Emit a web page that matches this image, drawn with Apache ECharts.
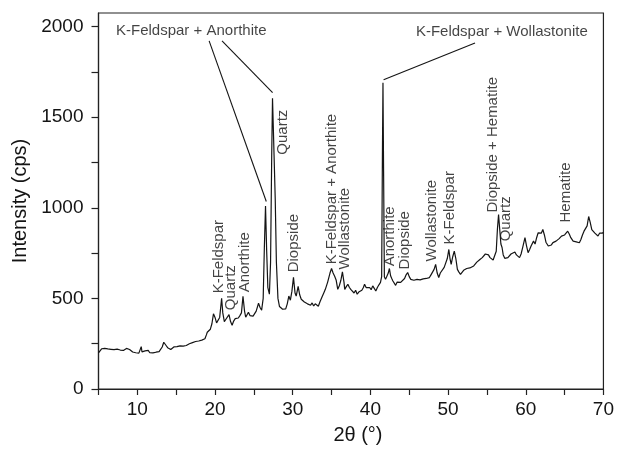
<!DOCTYPE html>
<html>
<head>
<meta charset="utf-8">
<script src="https://cdn.jsdelivr.net/npm/echarts@6/dist/echarts.min.js"></script>
<style>html,body{margin:0;padding:0;background:#fff}#c{width:617px;height:450px}</style>
</head>
<body>
<div id="c"></div>
<script>
// 2θ (degrees)
var twoTheta = [
5.0,5.2,5.4,5.6,5.8,6.0,6.2,6.4,6.6,6.8,7.0,7.2,7.4,7.6,7.8,8.0,8.2,8.4,8.6,8.8,9.0,9.2,9.4,9.6,9.8,10.0,10.2,10.4,10.5,10.6,10.8,11.0,11.2,11.4,11.6,11.8,12.0,12.2,12.4,12.6,12.8,13.0,13.2,13.4,13.5,13.7,13.9,14.1,14.3,14.5,14.7,14.9,15.1,15.3,15.5,15.7,15.9,16.1,16.3,16.5,16.7,16.9,17.1,17.3,17.5,17.7,17.9,18.1,18.3,18.5,18.7,18.9,19.0,19.2,19.4,19.6,19.8,20.0,20.2,20.4,20.6,20.85,21.0,21.2,21.4,21.6,21.8,22.0,22.2,22.4,22.6,22.8,23.0,23.2,23.4,23.6,23.8,23.95,24.1,24.3,24.5,24.7,24.9,25.1,25.3,25.6,25.8,26.0,26.2,26.35,26.5,26.65,26.8,27.0,27.15,27.3,27.4,27.5,27.6,27.75,27.9,28.1,28.3,28.5,28.7,28.9,29.1,29.3,29.5,29.7,29.9,30.1,30.3,30.45,30.7,30.9,31.1,31.3,31.5,31.7,31.9,32.1,32.3,32.5,32.7,32.9,33.1,33.3,33.5,33.8,34.0,34.2,34.5,34.8,35.0,35.2,35.4,35.6,35.8,36.0,36.2,36.4,36.6,36.7,36.9,37.1,37.3,37.5,37.7,37.9,38.1,38.3,38.5,38.7,38.9,39.1,39.25,39.45,39.7,39.9,40.1,40.3,40.5,40.7,40.9,41.1,41.3,41.45,41.55,41.62,41.7,41.8,41.95,42.1,42.3,42.45,42.6,42.75,42.9,43.1,43.25,43.45,43.7,43.9,44.1,44.4,44.6,44.8,45.0,45.2,45.4,45.6,45.8,46.0,46.2,46.4,46.6,46.8,47.0,47.2,47.4,47.6,47.8,48.0,48.2,48.4,48.6,48.8,49.0,49.2,49.5,49.7,49.9,50.1,50.25,50.4,50.6,50.8,51.0,51.2,51.4,51.6,51.8,52.0,52.2,52.4,52.6,52.8,53.0,53.3,53.5,53.7,53.9,54.1,54.4,54.6,54.8,55.0,55.2,55.4,55.6,55.8,56.0,56.2,56.35,56.5,56.65,56.8,56.95,57.1,57.3,57.5,57.7,57.9,58.1,58.3,58.6,58.8,59.0,59.2,59.4,59.6,59.9,60.1,60.3,60.5,60.7,61.0,61.2,61.4,61.6,61.8,62.0,62.2,62.4,62.6,62.9,63.1,63.3,63.5,63.7,63.9,64.1,64.3,64.6,64.8,65.0,65.2,65.4,65.6,65.8,66.1,66.3,66.5,66.7,66.9,67.1,67.3,67.5,67.7,67.9,68.1,68.3,68.5,68.7,68.9,69.1,69.3,69.5,69.7,69.85,70.0
];
// Intensity (cps)
var intensity = [
200,205,222,218,224,216,221,214,219,212,217,213,220,211,215,208,213,216,224,232,218,212,204,209,200,206,198,203,234,205,198,210,204,213,200,205,199,207,203,210,206,212,232,258,266,240,228,222,218,226,232,236,234,240,238,241,237,242,240,246,250,248,256,259,262,258,265,264,270,273,277,300,313,305,330,360,415,395,365,358,395,500,420,372,385,378,410,372,352,375,388,395,392,405,420,512,430,396,405,424,405,395,402,398,430,473,450,435,500,780,1010,760,560,523,700,1300,1605,1450,1290,1050,700,500,455,448,440,446,442,470,513,490,540,616,530,513,566,520,495,505,480,490,470,478,462,475,458,470,460,457,480,510,530,550,590,640,665,640,622,600,550,570,600,646,590,550,565,578,560,548,540,530,545,523,535,525,545,560,578,560,550,560,548,569,555,541,560,575,588,620,1300,1690,1200,620,605,615,640,665,625,610,596,585,572,590,580,588,595,610,630,643,620,605,612,600,610,605,615,602,612,608,618,610,620,615,630,640,660,688,640,615,640,650,671,660,720,770,720,688,730,761,720,660,645,633,640,655,650,665,660,668,672,679,690,700,705,715,725,735,745,752,740,725,720,712,715,760,880,963,880,800,781,740,721,730,725,734,745,735,756,740,735,725,745,780,835,790,752,770,790,816,800,835,862,870,860,880,850,810,789,800,795,808,800,816,812,830,844,835,850,860,871,855,835,816,820,812,805,807,825,850,871,865,900,952,920,880,871,860,850,844,860,871,860,865
];
var xTickValues = [5,10,15,20,25,30,35,40,45,50,55,60,65,70];
var xLabelValues = [10,20,30,40,50,60,70];
var yTickValues = [0,250,500,750,1000,1250,1500,1750,2000];
var yLabelValues = [0,500,1000,1500,2000];

// vertical peak labels: [2θ, intensity at text start, text]
var peakLabelX = [20.52,22.05,23.84,30.1,28.69,35.01,36.74,42.55,44.46,47.91,50.21,55.83,57.49,65.15];
var peakLabelY = [528,435,534,644,1293,688,660,677,660,704,798,974,815,919];
var peakLabelText = ['K-Feldspar','Quartz','Anorthite','Diopside','Quartz','K-Feldspar + Anorthite','Wollastonite','Anorthite','Diopside','Wollastonite','K-Feldspar','Diopside + Hematite','Quartz','Hematite'];

// top horizontal labels
var topLabelX = [16.94, 56.92];
var topLabelY = [1976, 1970];
var topLabelText = ['K-Feldspar + Anorthite', 'K-Feldspar + Wollastonite'];

// leader lines
var leaderFrom = [[19.24,1921],[20.9,1921],[53.47,1910]];
var leaderTo = [[26.6,1035],[27.41,1635],[41.7,1706]];

var font = '"Liberation Sans", Arial, Helvetica, sans-serif';
var ink = '#141414';
var series = [];
var lineData = twoTheta.map(function(t,i){return [t, intensity[i]];});
series.push({
  type:'line', data: lineData, showSymbol:false, symbol:'none', animation:false,
  lineStyle:{color:ink, width:1.2},
  markLine:{
    silent:true, symbol:['none','none'], animation:false,
    lineStyle:{color:ink, width:1.1, type:'solid'},
    label:{show:false},
    data: leaderFrom.map(function(f,i){return [{coord:f},{coord:leaderTo[i]}];})
  }
});
series.push({
  type:'scatter', symbolSize:0, animation:false, silent:true,
  data: peakLabelX.map(function(x,i){return {value:[x, peakLabelY[i]], label:{formatter: peakLabelText[i]}};}),
  label:{show:true, position:[0,0], rotate:90, align:'left', verticalAlign:'middle',
    color:ink, fontSize:15, fontFamily:font}
});
series.push({
  type:'scatter', symbolSize:0, animation:false, silent:true,
  data: topLabelX.map(function(x,i){return {value:[x, topLabelY[i]], label:{formatter: topLabelText[i]}};}),
  label:{show:true, position:[0,0], align:'center', verticalAlign:'middle',
    color:ink, fontSize:15, fontFamily:font}
});

var chart = echarts.init(document.getElementById('c'));
chart.setOption({
  animation:false,
  backgroundColor:'#fff',
  grid:{left:98.5, right:9.5, top:13, bottom:60, show:true, borderColor:'#222', borderWidth:1.2, backgroundColor:'transparent'},
  xAxis:{
    type:'value', min:5, max:70, interval:5,
    name:'2θ (°)', nameLocation:'middle', nameGap:36,
    nameTextStyle:{fontSize:20, color:ink, fontFamily:font, padding:[0,0,0,14]},
    axisLine:{show:true, lineStyle:{color:'#222', width:1.2}},
    axisTick:{show:true, inside:false, length:6, customValues:xTickValues, lineStyle:{color:'#222', width:1.2}},
    axisLabel:{customValues:xLabelValues, fontSize:19, color:ink, fontFamily:font, margin:11,
      formatter:function(v){return String(v);}},
    splitLine:{show:false}
  },
  yAxis:{
    type:'value', min:0, max:2075,
    name:'Intensity (cps)', nameLocation:'middle', nameGap:60, nameRotate:90,
    nameTextStyle:{fontSize:20, color:ink, fontFamily:font},
    axisLine:{show:true, lineStyle:{color:'#222', width:1.2}},
    axisTick:{show:true, inside:false, length:7, customValues:yTickValues, lineStyle:{color:'#222', width:1.2}},
    axisLabel:{customValues:yLabelValues, fontSize:19, color:ink, fontFamily:font, margin:15,
      formatter:function(v){return String(v);}},
    splitLine:{show:false}
  },
  series: series
});
</script>
</body>
</html>
